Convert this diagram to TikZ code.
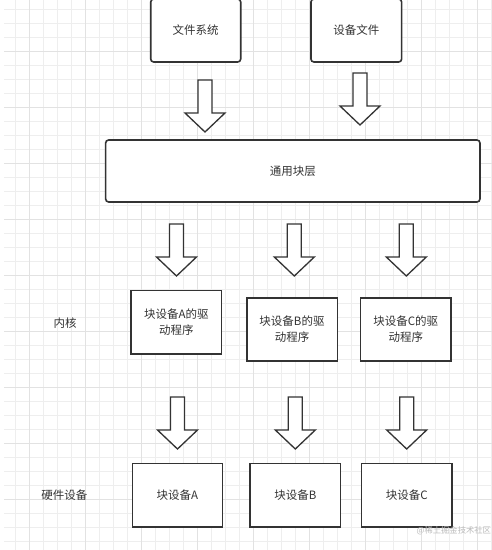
\documentclass[tikz,border=0pt]{standalone}
\usepackage{fontspec}
\newfontfamily\cjk{Noto Sans CJK SC}
\definecolor{gridminor}{HTML}{EEEEEE}
\definecolor{gridmajor}{HTML}{E2E2E2}
\definecolor{ink}{HTML}{333333}
\definecolor{wm}{HTML}{BBBBBB}
\tikzset{
  txt/.style={font=\cjk\fontsize{11.5}{16}\selectfont, text=ink, align=center, inner sep=0pt},
  boxbase/.style={draw=ink, line width=1.6pt, fill=white, txt},
  roundbox/.style={boxbase, rounded corners=3pt},
  sqbox/.style={boxbase},
  arrowline/.style={draw=ink, line width=1.3pt, fill=white, line join=miter},
  blockarrow/.pic={\path[arrowline] (-7,0) -- (7,0) -- (7,33) -- (20,33) -- (0,52) -- (-20,33) -- (-7,33) -- cycle;}
}
\begin{document}
\begin{tikzpicture}[x=1pt,y=-1pt]
\useasboundingbox (0,0) rectangle (492,550);
\fill[white] (0,0) rectangle (492,550);
% grid
\foreach \gx in {15,29,...,491} \draw[gridminor, line width=0.8pt] (\gx,0) -- (\gx,550);
\foreach \gy in {9,23,...,549} \draw[gridminor, line width=0.8pt] (4,\gy) -- (492,\gy);
\foreach \gx in {29,85,...,491} \draw[gridmajor, line width=0.9pt] (\gx,0) -- (\gx,550);
\foreach \gy in {51,107,...,549} \draw[gridmajor, line width=0.9pt] (4,\gy) -- (492,\gy);
% top boxes
\node[roundbox, minimum width=90pt, minimum height=63pt] (fs) at (195.7,30.5) {文件系统};
\node[roundbox, minimum width=90.7pt, minimum height=63pt] (dev) at (356.3,30.5) {设备文件};
\node[roundbox, minimum width=374.3pt, minimum height=62pt] (gen) at (292.8,171) {通用块层};
% drivers
\node[sqbox, minimum width=90.7pt, minimum height=63.3pt] (drvA) at (176.3,322.3) {块设备A的驱\\动程序};
\node[sqbox, minimum width=90.6pt, minimum height=63pt] (drvB) at (292,329.2) {块设备B的驱\\动程序};
\node[sqbox, minimum width=90.3pt, minimum height=63pt] (drvC) at (405.8,329.2) {块设备C的驱\\动程序};
% devices
\node[sqbox, minimum width=90pt, minimum height=63.4pt] (blkA) at (177.3,495) {块设备A};
\node[sqbox, minimum width=90.7pt, minimum height=63.4pt] (blkB) at (295.3,495) {块设备B};
\node[sqbox, minimum width=90.3pt, minimum height=63.4pt] (blkC) at (406.8,495) {块设备C};
% side labels
\node[txt] (kern) at (65,322.7) {内核};
\node[txt] (hw) at (64.3,495) {硬件设备};
% block arrows
\pic at (205,80) {blockarrow};
\pic at (360,73) {blockarrow};
\pic at (176.5,224) {blockarrow};
\pic at (294.3,224) {blockarrow};
\pic at (406.3,224) {blockarrow};
\pic at (177.5,397) {blockarrow};
\pic at (295.3,397) {blockarrow};
\pic at (406.7,397) {blockarrow};
% watermark
\node[font=\cjk\fontsize{8.3}{10}\selectfont, text=wm, anchor=west, inner sep=0pt] (wmk) at (416.5,531) {@稀土掘金技术社区};
\end{tikzpicture}
\end{document}
